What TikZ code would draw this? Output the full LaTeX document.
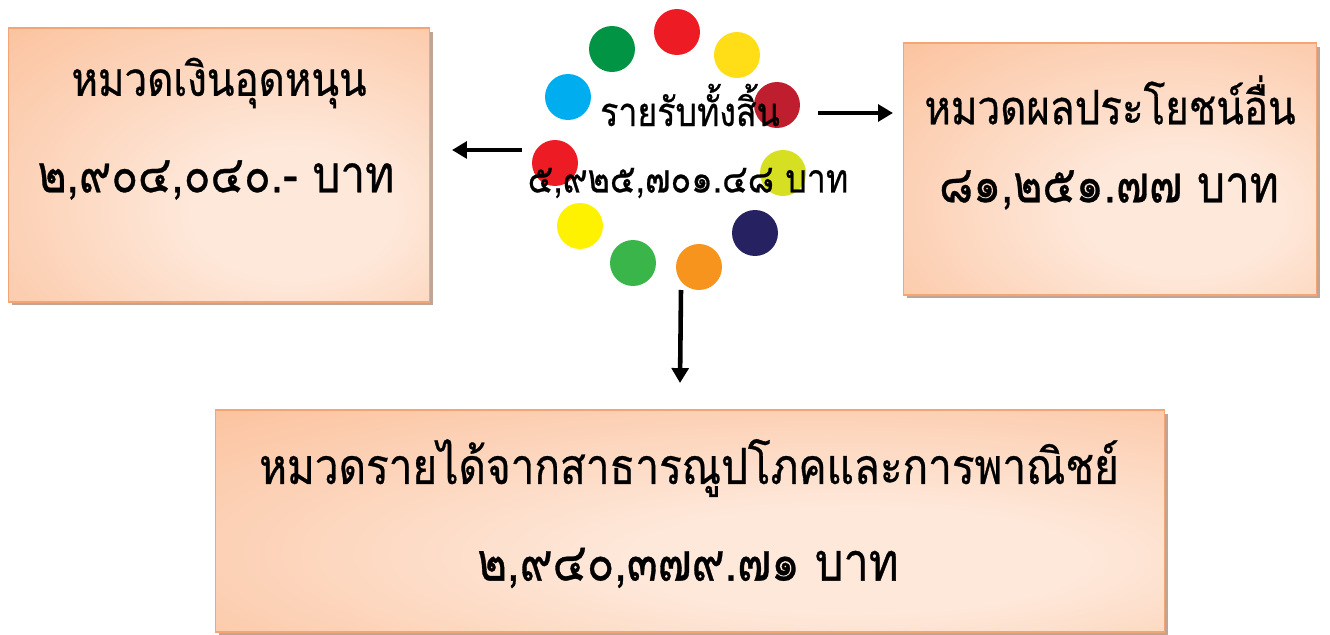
\documentclass[tikz,border=0pt]{standalone}
\usepackage{fontspec}
\newfontfamily\thaifont[Script=Thai, FakeStretch=0.85, FakeBold=0.6]{Loma}
\usetikzlibrary{shadows,arrows.meta}

\definecolor{peachdk}{RGB}{250,178,132}
\definecolor{peachlt}{RGB}{254,232,218}
\definecolor{peachline}{RGB}{242,166,118}
\definecolor{shadowtan}{RGB}{190,165,150}
\definecolor{dotred}{RGB}{237,28,36}
\definecolor{dotgold}{RGB}{255,222,23}
\definecolor{dotmaroon}{RGB}{190,30,45}
\definecolor{dotlime}{RGB}{215,223,35}
\definecolor{dotnavy}{RGB}{38,34,98}
\definecolor{dotorange}{RGB}{247,148,29}
\definecolor{dotgreen}{RGB}{57,181,74}
\definecolor{dotyellow}{RGB}{255,242,0}
\definecolor{dotsky}{RGB}{0,174,239}
\definecolor{dotforest}{RGB}{0,148,68}

\pgfdeclareradialshading{peach}{\pgfpoint{10bp}{-10bp}}{color(0bp)=(peachlt); color(12bp)=(peachlt); color(58bp)=(peachdk); color(100bp)=(peachdk)}

\tikzset{
	catbox/.style={draw=peachline, line width=0.6pt, shade, shading=peach,
		drop shadow={shadow xshift=2pt, shadow yshift=-2pt, fill=shadowtan, opacity=1}},
	boxtext/.style={font=\thaifont\fontsize{27}{31}\selectfont},
	boxsum/.style={font=\thaifont\fontsize{29.5}{33}\selectfont},
	bigtext/.style={font=\thaifont\fontsize{28.3}{32}\selectfont},
	bigsum/.style={font=\thaifont\fontsize{30.2}{34}\selectfont},
	hubtext/.style={font=\thaifont\fontsize{22.7}{26}\selectfont},
	link/.style={-{Triangle[length=8.5pt,width=9.5pt]}, line width=2.6pt}
}

\begin{document}
\begin{tikzpicture}[x=0.02cm, y=-0.02cm]
	\useasboundingbox (0,0) rectangle (1330,635);
	
	%Boxes
	\node[catbox, minimum width=8.44cm, minimum height=5.48cm] (grant) at (219,165) {};
	\node[catbox, minimum width=8.28cm, minimum height=5.04cm] (benefit) at (1110,169) {};
	\node[catbox, minimum width=19cm, minimum height=4.44cm] (utility) at (690,521) {};
	
	\node[boxtext] (grantname) at (219,83) {หมวดเงินอุดหนุน};
	\node[boxsum] (grantsum) at (216,180) {๒,๙๐๔,๐๔๐.- บาท};
	\node[boxtext] (benefitname) at (1110,100) {หมวดผลประโยชน์อื่น};
	\node[boxsum] (benefitsum) at (1109,190) {๘๑,๒๕๑.๗๗ บาท};
	\node[bigtext] (utilityname) at (689,468) {หมวดรายได้จากสาธารณูปโภคและการพาณิชย์};
	\node[bigsum] (utilitysum) at (688,568) {๒,๙๔๐,๓๗๙.๗๑ บาท};
	
	%Dots
	\fill[dotred] (677,32) circle (0.46cm);
	\fill[dotgold] (737,55) circle (0.46cm);
	\fill[dotmaroon] (777,105) circle (0.46cm);
	\fill[dotlime] (783,173) circle (0.46cm);
	\fill[dotnavy] (755,233) circle (0.46cm);
	\fill[dotorange] (699,267) circle (0.46cm);
	\fill[dotgreen] (633,263) circle (0.46cm);
	\fill[dotyellow] (580,226) circle (0.46cm);
	\fill[dotred] (555,163) circle (0.46cm);
	\fill[dotsky] (568,97) circle (0.46cm);
	\fill[dotforest] (612,49) circle (0.46cm);
	
	\node[hubtext] (total) at (690,105) {รายรับทั้งสิ้น};
	\node[hubtext] (totalsum) at (688,183) {๕,๙๒๕,๗๐๑.๔๘ บาท};
	
	%Arrows
	\coordinate (hubwest) at (522,150);
	\coordinate (grantin) at (452,150);
	\coordinate (hubeast) at (818,113);
	\coordinate (benefitin) at (893,113);
	\coordinate (hubsouth) at (681,290);
	\coordinate (utilityin) at (680,383);
	
	\draw[link] (hubwest) -- (grantin);
	\draw[link] (hubeast) -- (benefitin);
	\draw[link] (hubsouth) -- (utilityin);
	
\end{tikzpicture}
\end{document}
